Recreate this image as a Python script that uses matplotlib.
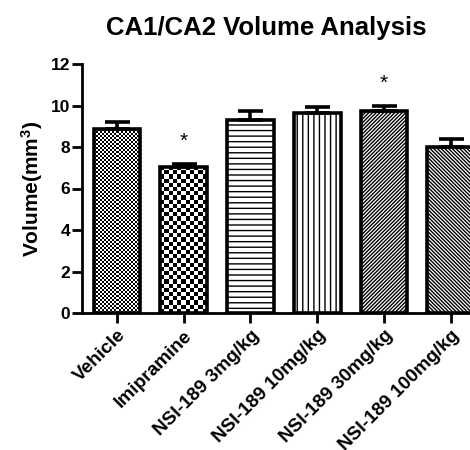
import numpy as np
import matplotlib
matplotlib.use("Agg")
import matplotlib.pyplot as plt

plt.rcParams['font.family'] = ['Liberation Sans', 'DejaVu Sans']
plt.rcParams['font.weight'] = 'bold'
plt.rcParams['mathtext.fontset'] = 'custom'
plt.rcParams['mathtext.rm'] = 'Liberation Sans:bold'
plt.rcParams['mathtext.bf'] = 'Liberation Sans:bold'
plt.rcParams['mathtext.it'] = 'Liberation Sans:bold'
plt.rcParams['hatch.linewidth'] = 1.0

categories = ["Vehicle", "Imipramine", "NSI-189 3mg/kg", "NSI-189 10mg/kg",
              "NSI-189 30mg/kg", "NSI-189 100mg/kg"]
means = [8.85, 7.05, 9.3, 9.65, 9.75, 8.0]
errors = [0.35, 0.15, 0.42, 0.3, 0.25, 0.38]
significant = [False, True, False, False, True, False]
yticks = [0, 2, 4, 6, 8, 10, 12]

fig = plt.figure(figsize=(4.7, 4.5), dpi=100)
ax = fig.add_axes([82/470, 1-313/450, 1-82/470, (313-64)/450])

x = np.arange(len(categories))
width = 0.7
hatches = [None, None, '---', '|||', '/////////', '\\\\\\\\\\\\\\\\\\']
bars = ax.bar(x, means, width=width, color='white', edgecolor='black',
              linewidth=2.6, zorder=2)
for b, h in zip(bars, hatches):
    if h:
        b.set_hatch(h)

def checker(bar, cell_px, px_per_unit_x, px_per_unit_y):
    w = bar.get_width() * px_per_unit_x
    hgt = bar.get_height() * px_per_unit_y
    nx = max(1, int(round(w / cell_px)))
    ny = max(1, int(round(hgt / cell_px)))
    pattern = (np.add.outer(np.arange(ny), np.arange(nx)) % 2).astype(float)
    im = ax.imshow(pattern, cmap='gray', vmin=0, vmax=1, interpolation='nearest',
                   extent=[bar.get_x(), bar.get_x() + bar.get_width(), 0, bar.get_height()],
                   aspect='auto', zorder=1.5)
    im.set_clip_path(bar)

ax.set_xlim(-0.525, 5.29)
ax.set_ylim(0, 12)
ppx = 66.7
ppy = (313 - 64) / 12
checker(bars[0], 2.0, ppx, ppy)
checker(bars[1], 4.2, ppx, ppy)
bars[0].set_facecolor('none')
bars[1].set_facecolor('none')

ax.errorbar(x, means, yerr=[np.zeros(len(means)), errors], fmt='none',
            ecolor='black', elinewidth=2.6, capsize=9, capthick=2.6, zorder=3)

for xi, m, e, s in zip(x, means, errors, significant):
    if s:
        ax.text(xi, m + e + 0.6, '*', ha='center', va='bottom', fontsize=15,
                fontweight='normal', color='black')

ax.set_yticks(yticks)
ax.set_yticklabels([str(t) for t in yticks], fontsize=12.5, fontweight='bold')
ax.set_xticks(x)
ax.set_xticklabels(categories, rotation=45, ha='right', rotation_mode='anchor',
                   fontsize=13.7, fontweight='bold')
ax.tick_params(axis='both', length=7, width=2, direction='out', color='black')
ax.tick_params(axis='y', pad=1.5)
ax.tick_params(axis='x', pad=3)
for sp in ['top', 'right']:
    ax.spines[sp].set_visible(False)
for sp in ['left', 'bottom']:
    ax.spines[sp].set_linewidth(2)
ax.set_ylabel(r'Volume(mm$^{3}$)', fontsize=15, fontweight='bold', labelpad=4)
fig.text(266/470, 1-28/450, 'CA1/CA2 Volume Analysis', ha='center', va='center',
         fontsize=18.5, fontweight='bold')

fig.savefig('out.png', dpi=100)
